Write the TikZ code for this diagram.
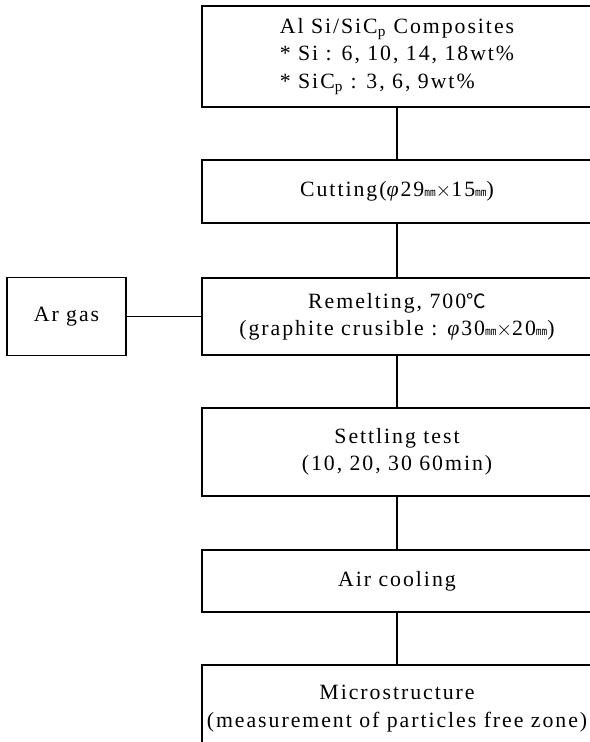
\documentclass[tikz,border=0pt]{standalone}
\usepackage{fontspec}
\setmainfont{Liberation Serif}[LetterSpace=9]
\newfontfamily\cjk{Noto Sans CJK KR}[Scale=0.9]
\newcommand{\mmunit}{{\cjk\fontsize{9}{9}\selectfont ㎜}}
\newcommand{\degc}{{\cjk ℃}}
\newcommand{\phid}{\textit{φ}}
\begin{document}
\begin{tikzpicture}[x=0.025cm,y=-0.025cm]
		\tikzset{stage/.style = {shape=rectangle,draw,line width=0.8pt,minimum width=9.75cm,inner sep=0pt,align=center,font=\fontsize{15.5}{19.5}\selectfont}}
		\tikzset{gasbox/.style = {stage,minimum width=2.975cm,minimum height=1.95cm}}
		\useasboundingbox (0,0) rectangle (590,742);
		\node[stage,minimum height=2.525cm,align=left] (comp) at (397,56.5) {Al Si/SiC\textsubscript{p} Composites\\ * Si : 6, 10, 14, 18wt\%\\ * SiC\textsubscript{p} : 3, 6, 9wt\%};
		\node[stage,minimum height=1.575cm] (cut) at (397,191.5) {Cutting(\phid29\mmunit$\times$15\mmunit)};
		\node[stage,minimum height=1.925cm] (remelt) at (397,316.5) {Remelting, 700\degc\\(graphite crusible : \phid30\mmunit$\times$20\mmunit)};
		\node[gasbox] (ar) at (66.5,316.5) {Ar gas};
		\node[stage,minimum height=2.2cm] (settle) at (397,452) {Settling test\\(10, 20, 30 60min)};
		\node[stage,minimum height=1.55cm] (cool) at (397,581) {Air cooling};
		\node[stage,minimum height=2.175cm] (micro) at (397,708.5) {Microstructure\\(measurement of particles free zone)};
		\path[draw,line width=0.8pt] (comp) edge (cut) (cut) edge (remelt) (remelt) edge (settle) (settle) edge (cool) (cool) edge (micro);
		\path[draw,line width=0.8pt] (ar) edge (remelt);
	\end{tikzpicture}
\end{document}
